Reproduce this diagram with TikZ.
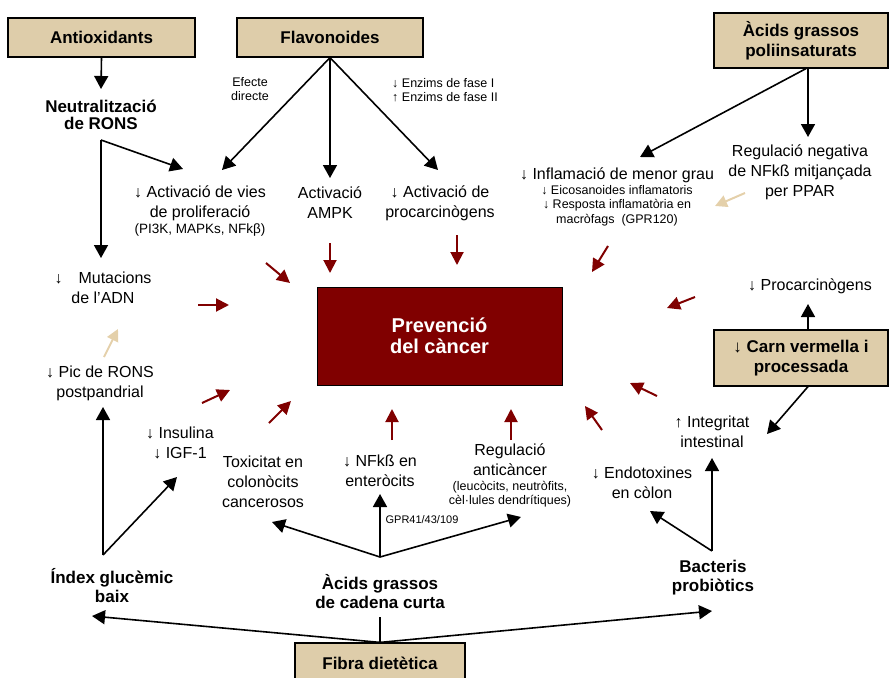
\documentclass[tikz,border=0pt]{standalone}
\usepackage{fontspec}
\setmainfont{Liberation Sans}
\usepackage{tikz}
\usetikzlibrary{arrows.meta}
\usetikzlibrary{positioning}

\definecolor{boxtan}{RGB}{222,205,170}
\definecolor{darkred}{RGB}{128,0,0}
\definecolor{arrowtan}{RGB}{228,208,170}

\begin{document}
\begin{tikzpicture}[x=1pt,y=-1pt]
        \useasboundingbox (0,0) rectangle (893,677);
        % boxes
        \begin{scope}[every node/.style={draw=black,line width=1.2pt,fill=boxtan,align=center,inner sep=0pt,font=\bfseries\fontsize{17}{20}\selectfont}]
        \node[minimum width=187pt,minimum height=39pt] (anti) at (101.5,37.5) {Antioxidants};
        \node[minimum width=186pt,minimum height=39pt] (flav) at (330,37.5) {Flavonoides};
        \node[minimum width=174pt,minimum height=55pt] (pufa) at (801,40.5) {Àcids grassos\\poliinsaturats};
        \node[minimum width=174pt,minimum height=56pt] (carn) at (801,358) {↓ Carn vermella i\\processada};
        \node[minimum width=170pt,minimum height=40pt] (fibra) at (380,663) {Fibra dietètica};
        \end{scope}
        \node[draw=black,line width=1pt,fill=darkred,text=white,align=center,inner sep=0pt,
              minimum width=245pt,minimum height=98pt,font=\bfseries\fontsize{20}{21}\selectfont] (prev) at (439.5,336) {Prevenció\\del càncer};
        % bold labels
        \begin{scope}[every node/.style={align=center,inner sep=0pt,font=\bfseries\fontsize{17}{19}\selectfont}]
        \node[font=\bfseries\fontsize{17}{17.5}\selectfont] (neutr) at (101,115) {Neutralització\\de RONS};
        \node (index) at (112,586) {Índex glucèmic\\baix};
        \node (scfa) at (380,592) {Àcids grassos\\de cadena curta};
        \node (bacter) at (713,578) {Bacteris\\probiòtics};
        \end{scope}
        % plain labels
        \begin{scope}[every node/.style={align=center,inner sep=0pt,font=\fontsize{16}{20}\selectfont}]
        \node (prolif) at (200,203) {↓ Activació de vies\\de proliferació};
        \node (ampk) at (330,203) {Activació\\AMPK};
        \node (procarc) at (440,203) {↓ Activació de\\procarcinògens};
        \node (inflam) at (617,175) {↓ Inflamació de menor grau};
        \node (ppar) at (800,172) {Regulació negativa\\de NFkß mitjançada\\per PPAR};
        \node (mutac) at (103,288) {↓\quad Mutacions\\de l’ADN};
        \node (pic) at (100,383) {↓ Pic de RONS\\postpandrial};
        \node (insul) at (180,443) {↓ Insulina\\↓ IGF-1};
        \node (toxic) at (263,482) {Toxicitat en\\colonòcits\\cancerosos};
        \node (nfkb) at (380,471) {↓ NFkß en\\enteròcits};
        \node (regul) at (510,460) {Regulació\\anticàncer};
        \node (endotox) at (642,483) {↓ Endotoxines\\en còlon};
        \node (integ) at (712,432) {↑ Integritat\\intestinal};
        \node (procarc2) at (810,286) {↓ Procarcinògens};
        \end{scope}
        % small labels
        \begin{scope}[every node/.style={align=center,inner sep=0pt,font=\fontsize{12.5}{14.5}\selectfont}]
        \node[font=\fontsize{13.5}{15}\selectfont] (prolif2) at (200,230) {(PI3K, MAPKs, NFkβ)};
        \node (efecte) at (250,89) {Efecte\\directe};
        \node[align=left] (enzims) at (445,90) {↓ Enzims de fase I\\↑ Enzims de fase II};
        \node (inflam2) at (617,205.5) {↓ Eicosanoides inflamatoris\\↓ Resposta inflamatòria en\\macròfags\ \ (GPR120)};
        \node[font=\fontsize{11}{13}\selectfont] (gpr) at (422,520) {GPR41/43/109};
        \node (regul2) at (510,494) {(leucòcits, neutròfits,\\cèl·lules dendrítiques)};
        \end{scope}
        % junctions and arrow ends
        \coordinate (neutr-j) at (101,140);
        \coordinate (index-j) at (103,555);
        \coordinate (scfa-j) at (380,557);
        \coordinate (bacter-j) at (712,551);
        \coordinate (scfa-top) at (380,617);
        % black arrows
        \begin{scope}[every edge/.style={draw=black,line width=1.6pt,-{Triangle[length=13pt,width=14pt]}}]
        \path (anti.south) edge (101,89);
        \path (neutr-j) edge (183,169);
        \path (neutr-j) edge (101,258);
        \path (flav.south) edge (222,170);
        \path (flav.south) edge (330,178);
        \path (flav.south) edge (438,170);
        \path ([xshift=7pt]pufa.south) edge (808,137);
        \path ([xshift=5pt]pufa.south) edge (640,157);
        \path ([xshift=7pt]carn.north) edge (808,304);
        \path ([xshift=7pt]carn.south) edge (767,434);
        \path (bacter-j) edge (712,458);
        \path (bacter-j) edge (650,511);
        \path (scfa-j) edge (380,494);
        \path (scfa-j) edge (272,522);
        \path (scfa-j) edge (521,517);
        \path (index-j) edge (103,407);
        \path (index-j) edge (177,477);
        \path (fibra.north) edge (92,616);
        \path (fibra.north) edge (712,611);
        \end{scope}
        \draw[line width=1.6pt] (fibra.north) -- (scfa-top);
        % red arrows to the centre box
        \begin{scope}[every edge/.style={draw=darkred,line width=2pt,-{Triangle[length=13pt,width=13pt]}}]
        \path (266,263) edge (290,283);
        \path (198,305) edge (229,305);
        \path (202,403) edge (230,390);
        \path (269,423) edge (291,401);
        \path (330,243) edge (330,273);
        \path (457,235) edge (457,265);
        \path (608,246) edge (592,272);
        \path (695,297) edge (667,308);
        \path (657,396) edge (630,383);
        \path (602,430) edge (585,406);
        \path (392,440) edge (392,409);
        \path (511,440) edge (511,409);
        \end{scope}
        % tan arrows
        \begin{scope}[every edge/.style={draw=arrowtan,line width=2pt,-{Triangle[length=12pt,width=12pt]}}]
        \path (104,357) edge (118,329);
        \path (745,193) edge (715,206);
        \end{scope}
        \end{tikzpicture}
\end{document}
